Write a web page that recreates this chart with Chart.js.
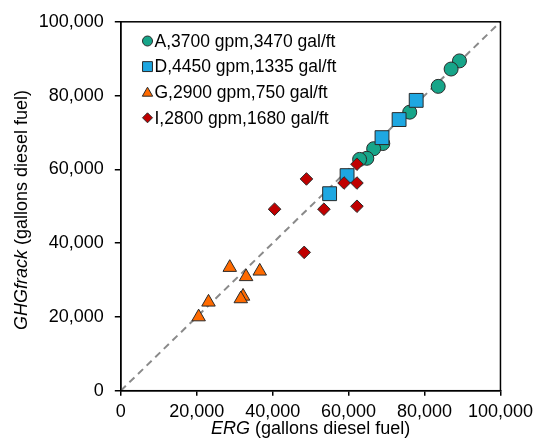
<!DOCTYPE html>
<html>
<head>
<meta charset="utf-8">
<script src="https://cdn.jsdelivr.net/npm/chart.js@4/dist/chart.umd.min.js"></script>
<style>
  html, body { margin: 0; padding: 0; background: #fff; }
  #wrap { width: 539px; height: 445px; position: relative; }
</style>
</head>
<body>
<div id="wrap"><canvas id="c" width="539" height="445"></canvas></div>
<script>
// ---- Data (gallons diesel fuel) ----
const seriesLabels = ['A,3700 gpm,3470 gal/ft', 'D,4450 gpm,1335 gal/ft', 'G,2900 gpm,750 gal/ft', 'I,2800 gpm,1680 gal/ft'];

const aERG = [89200, 87000, 83600, 76100, 69000, 66600, 64800, 62900];
const aGHG = [89400, 87200, 82500, 75500, 67000, 65600, 63000, 62700];

const dERG = [77800, 73300, 68800, 59600, 55000];
const dGHG = [78700, 73500, 68600, 58300, 53400];

const gERG = [28700, 33000, 36600, 32200, 31600, 23100, 20500];
const gGHG = [33400, 30900, 32400, 25600, 24900, 24000, 20000];

const iERG = [62200, 48900, 58800, 62200, 40500, 53500, 62200, 48300];
const iGHG = [61400, 57400, 56300, 56300, 49200, 49200, 50000, 37500];

const oneToOne = [0, 100000];
const xTicks = [0, 20000, 40000, 60000, 80000, 100000];
const yTicks = [0, 20000, 40000, 60000, 80000, 100000];

const xTitleItalic = 'ERG', xTitleRest = ' (gallons diesel fuel)';
const yTitleItalic = 'GHGfrack', yTitleRest = ' (gallons diesel fuel)';

const pts = (xs, ys) => xs.map((x, i) => ({ x: x, y: ys[i] }));

const FONT = '"Liberation Sans", Arial, sans-serif';

const styles = [
  { pointStyle: 'circle',   radius: 7,   bg: '#17a589', lr: 5 },
  { pointStyle: 'rect',     radius: 9.8, bg: '#1ea7e1', lr: 7 },
  { pointStyle: 'triangle', radius: 7.8, bg: '#ff6a00', lr: 6 },
  { pointStyle: 'rectRot',  radius: 6.3, bg: '#c00000', lr: 5 }
];
const seriesData = [pts(aERG, aGHG), pts(dERG, dGHG), pts(gERG, gGHG), pts(iERG, iGHG)];

const datasets = seriesData.map((d, k) => ({
  type: 'scatter',
  label: seriesLabels[k],
  data: d,
  pointStyle: styles[k].pointStyle,
  pointRadius: styles[k].radius,
  pointHoverRadius: styles[k].radius,
  backgroundColor: styles[k].bg,
  borderColor: '#2a2a2a',
  pointBorderWidth: 1,
  order: 4 - k
}));
datasets.push({
  type: 'line',
  label: '1:1',
  data: pts(oneToOne, oneToOne),
  borderColor: '#8a8a8a',
  borderWidth: 2,
  borderDash: [7, 5],
  pointRadius: 0,
  fill: false,
  order: 10
});

const boxAndText = {
  id: 'boxAndText',
  afterDraw(chart) {
    const ctx = chart.ctx, a = chart.chartArea;
    ctx.save();
    // plot box
    ctx.strokeStyle = '#000';
    ctx.lineWidth = 1.5;
    ctx.strokeRect(a.left, a.top, a.right - a.left, a.bottom - a.top);

    // legend
    const lx = 147.5, ly0 = 41, dy = 25.6;
    ctx.textBaseline = 'middle';
    ctx.textAlign = 'left';
    ctx.font = '17.5px ' + FONT;
    for (let k = 0; k < 4; k++) {
      const y = ly0 + k * dy;
      ctx.fillStyle = styles[k].bg;
      ctx.strokeStyle = '#2a2a2a';
      ctx.lineWidth = 1;
      Chart.helpers.drawPoint(ctx, { pointStyle: styles[k].pointStyle, radius: styles[k].lr, rotation: 0, borderWidth: 1 }, lx, y + (k === 2 ? 1 : 0));
      ctx.fillStyle = '#000';
      ctx.fillText(seriesLabels[k], 154.5, y + 1);
    }

    // axis titles with italic part
    const drawTitle = (it, rest, cx, cy, rot) => {
      ctx.save();
      ctx.translate(cx, cy);
      ctx.rotate(rot);
      ctx.font = 'italic 18px ' + FONT;
      const w1 = ctx.measureText(it).width;
      ctx.font = '18px ' + FONT;
      const w2 = ctx.measureText(rest).width;
      const x0 = -(w1 + w2) / 2;
      ctx.fillStyle = '#000';
      ctx.textAlign = 'left';
      ctx.textBaseline = 'middle';
      ctx.font = 'italic 18px ' + FONT;
      ctx.fillText(it, x0, 0);
      ctx.font = '18px ' + FONT;
      ctx.fillText(rest, x0 + w1, 0);
      ctx.restore();
    };
    drawTitle(xTitleItalic, xTitleRest, (a.left + a.right) / 2, 429, 0);
    drawTitle(yTitleItalic, yTitleRest, 22, 210, -Math.PI / 2);
    ctx.restore();
  }
};

const fmt = v => v.toLocaleString('en-US');

new Chart(document.getElementById('c'), {
  data: { datasets: datasets },
  options: {
    responsive: false,
    animation: false,
    devicePixelRatio: 1,
    layout: { padding: { left: 0, top: 19, right: 35, bottom: 0 } },
    plugins: { legend: { display: false }, tooltip: { enabled: false } },
    scales: {
      x: {
        type: 'linear', min: 0, max: 100000,
        afterFit: s => { s.height = 54.3; },
        afterBuildTicks: s => { s.ticks = xTicks.map(v => ({ value: v })); },
        grid: { drawOnChartArea: false, drawTicks: true, tickLength: 5, color: '#000', lineWidth: 1.5 },
        border: { display: true, color: '#000', width: 1.5 },
        ticks: { color: '#000', font: { family: FONT, size: 18 }, padding: 6, maxRotation: 0, callback: v => fmt(v) }
      },
      y: {
        type: 'linear', min: 0, max: 100000,
        afterFit: s => { s.width = 120.8; },
        afterBuildTicks: s => { s.ticks = yTicks.map(v => ({ value: v })); },
        grid: { drawOnChartArea: false, drawTicks: true, tickLength: 6, color: '#000', lineWidth: 1.5 },
        border: { display: true, color: '#000', width: 1.5 },
        ticks: { color: '#000', font: { family: FONT, size: 18 }, padding: 11, callback: v => fmt(v) }
      }
    }
  },
  plugins: [boxAndText]
});
</script>
</body>
</html>
